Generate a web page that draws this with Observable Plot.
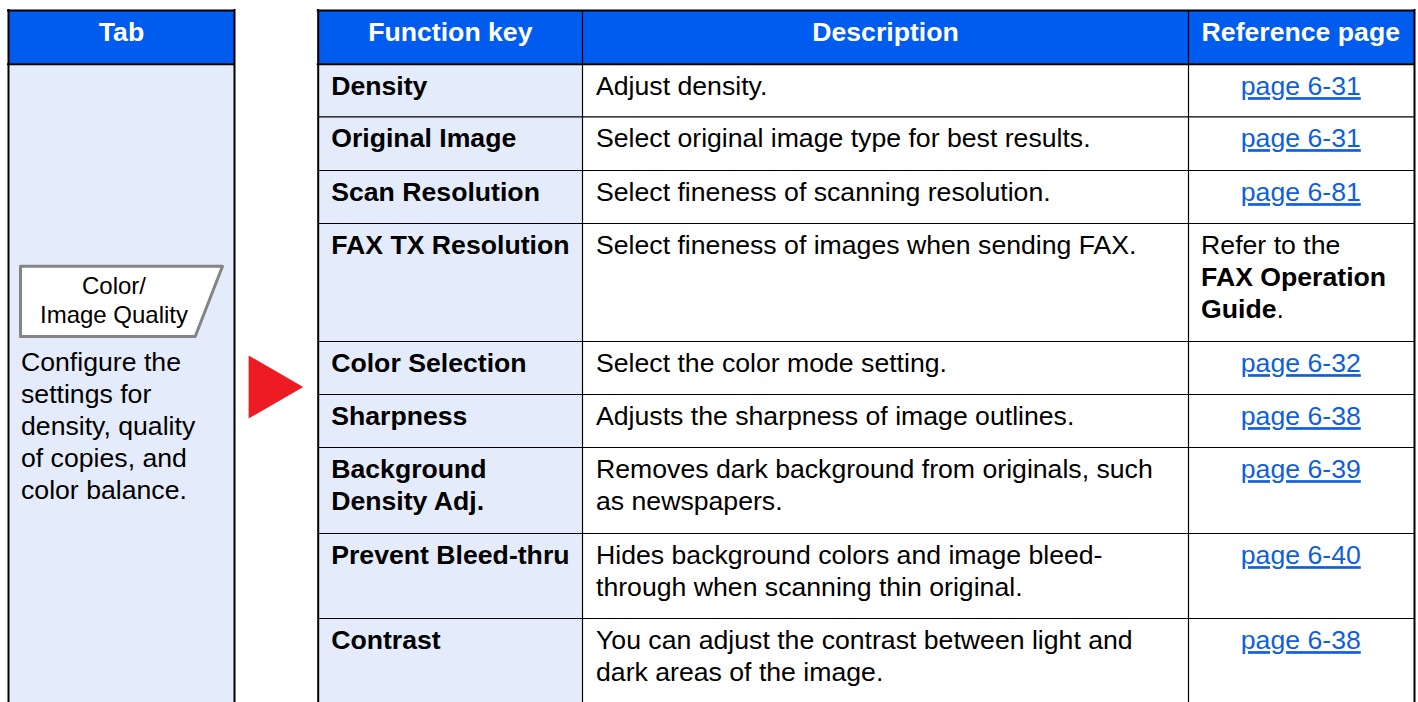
<!DOCTYPE html>
<html>
<head>
<meta charset="utf-8">
<script src="https://cdn.jsdelivr.net/npm/d3@7"></script>
<script src="https://cdn.jsdelivr.net/npm/@observablehq/plot@0.6"></script>
<style>
html,body{margin:0;padding:0;background:#fff;overflow:hidden}
svg{display:block}
</style>
</head>
<body>
<div id="chart"></div>
<script>
// ---- table content ----
const headers = ["Tab", "Function key", "Description", "Reference page"];
const functionKeys = ["Density", "Original Image", "Scan Resolution", "FAX TX Resolution", "Color Selection", "Sharpness", "Background\nDensity Adj.", "Prevent Bleed-thru", "Contrast"];
const descriptions = [
  "Adjust density.",
  "Select original image type for best results.",
  "Select fineness of scanning resolution.",
  "Select fineness of images when sending FAX.",
  "Select the color mode setting.",
  "Adjusts the sharpness of image outlines.",
  "Removes dark background from originals, such\nas newspapers.",
  "Hides background colors and image bleed-\nthrough when scanning thin original.",
  "You can adjust the contrast between light and\ndark areas of the image."
];
const referencePages = ["page 6-31", "page 6-31", "page 6-81", null, "page 6-32", "page 6-38", "page 6-39", "page 6-40", "page 6-38"];
const keyLabel = "Color/\nImage Quality";
const tabNote = "Configure the\nsettings for\ndensity, quality\nof copies, and\ncolor balance.";

// ---- table layout, in page units ----
const W = 1418, H = 702;
const columnEdges = [317.7, 582, 1188, 1414];
const rowEdges = [63.7, 116.3, 170, 223, 341, 394, 447, 533, 618, 702];
const tableTop = 10, tabLeft = 8, tabRight = 234;
const refCenter = 1300.3;
const keyOutline = {x: [20, 222, 194.7, 20, 20], y: [265.7, 265.7, 336, 336, 265.7]};
const font = "Liberation Sans", size = 26.65, lh = 32;
const blue = "#005bef", pale = "#e4ecfb", linkBlue = "#0f5fdc";

const rows = functionKeys.map((k, i) => ({key: k, desc: descriptions[i], ref: referencePages[i], y1: Math.round(rowEdges[i])}));
const heads = headers.map((t, i) => i === 0 ? {t, x1: tabLeft, x2: tabRight, c: (tabLeft + tabRight) / 2} : {t, x1: columnEdges[i - 1], x2: columnEdges[i], c: i === 3 ? refCenter : (columnEdges[i - 1] + columnEdges[i]) / 2});
const textBase = {fontFamily: font, fontSize: size, lineHeight: lh / size, lineAnchor: "top", fill: "#000"};
const underline = (index, scales, values, dims, ctx, next) => {
  const g = next(index, scales, values, dims, ctx);
  g.style.textDecoration = "underline";
  return g;
};
const rowDy = 7.9, noteX = columnEdges[2] + 12.6;

const chart = Plot.plot({
  width: W, height: H, margin: 0,
  style: {background: "#fff", fontFamily: font},
  x: {domain: [0, W], range: [0, W], axis: null},
  y: {domain: [0, H], range: [0, H], axis: null},
  marks: [
    // fills
    Plot.rect([{}], {x1: columnEdges[0], x2: columnEdges[1], y1: rowEdges[0], y2: H, fill: pale}),
    Plot.rect([{}], {x1: tabLeft, x2: tabRight, y1: rowEdges[0], y2: H, fill: pale}),
    Plot.rect(heads, {x1: "x1", x2: "x2", y1: tableTop, y2: rowEdges[0], fill: blue}),
    // inner row rules
    Plot.ruleY(rowEdges.slice(1, -1), {x1: columnEdges[0], x2: columnEdges[3], stroke: "#000", strokeWidth: 1.2}),
    // column rules
    Plot.ruleX([columnEdges[1], columnEdges[2]], {y1: tableTop, y2: H, stroke: "#000", strokeWidth: 1.2}),
    Plot.ruleX([tabLeft, tabRight, columnEdges[0], columnEdges[3]], {y1: tableTop - 1, y2: H, stroke: "#000", strokeWidth: 2}),
    // header rules
    Plot.ruleY([tableTop, rowEdges[0]], {x1: tabLeft - 1, x2: tabRight + 1, stroke: "#000", strokeWidth: 2}),
    Plot.ruleY([tableTop, rowEdges[0]], {x1: columnEdges[0] - 1, x2: columnEdges[3] + 1, stroke: "#000", strokeWidth: 2}),
    // header text
    Plot.text(heads, {x: "c", y: 32, text: "t", fill: "#fff", fontWeight: "bold", fontFamily: font, fontSize: size, textAnchor: "middle", lineAnchor: "middle"}),
    // first tab column
    Plot.line(keyOutline.x.map((x, i) => ({x, y: keyOutline.y[i]})), {x: "x", y: "y", fill: "#fff", stroke: "#848484", strokeWidth: 3, strokeLinejoin: "round", curve: "linear"}),
    Plot.text([keyLabel], {...textBase, x: 113.5, y: 272.5, text: d => d, fontSize: 24, lineHeight: 29 / 24, textAnchor: "middle"}),
    Plot.text([tabNote], {...textBase, x: 20.5, y: 347.6, text: d => d, textAnchor: "start"}),
    // arrow
    Plot.dot([{}], {x: 266.3, y: 386.5, r: 23.4, symbol: "triangle", rotate: 90, fill: "#ed1c24", stroke: "none"}),
    // function keys
    Plot.text(rows, {...textBase, x: columnEdges[0] + 13, y: "y1", dy: rowDy, text: "key", fontWeight: "bold", textAnchor: "start"}),
    // descriptions
    Plot.text(rows, {...textBase, x: columnEdges[1] + 13.5, y: "y1", dy: rowDy, text: "desc", textAnchor: "start"}),
    // reference pages
    Plot.text(rows.filter(d => d.ref), {...textBase, x: refCenter, y: "y1", dy: rowDy, text: "ref", fill: linkBlue, textAnchor: "middle", render: underline}),
    // FAX Operation Guide note
    Plot.text(["Refer to the"], {...textBase, x: noteX, y: rowEdges[3], dy: rowDy, text: d => d, textAnchor: "start"}),
    Plot.text(["FAX Operation\nGuide"], {...textBase, x: noteX, y: rowEdges[3], dy: rowDy + lh, text: d => d, fontWeight: "bold", textAnchor: "start"}),
    Plot.text(["."], {...textBase, x: noteX + 75.5, y: rowEdges[3], dy: rowDy + 2 * lh, text: d => d, textAnchor: "start"})
  ]
});
document.getElementById("chart").append(chart);
</script>
</body>
</html>
